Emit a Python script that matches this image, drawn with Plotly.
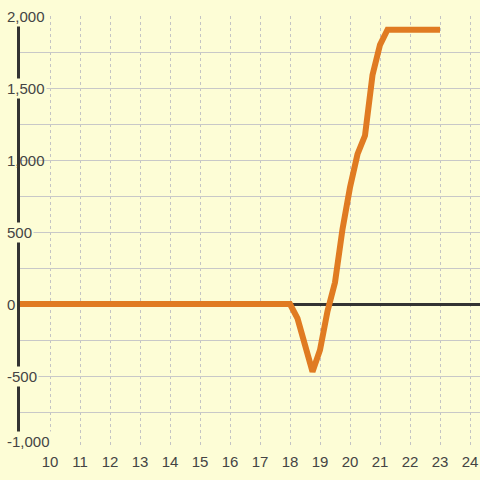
import plotly.graph_objects as go

hours = [9, 18.0, 18.25, 18.5, 18.75, 19.0, 19.25, 19.5, 19.75, 20.0, 20.25, 20.5, 20.75, 21.0, 21.25, 23.0]
values = [0, 0, -100, -290, -470, -320, -50, 150, 520, 810, 1040, 1170, 1590, 1800, 1905, 1905]
x_ticks = list(range(10, 25))
y_label_vals = [2000, 1500, 1000, 500, 0, -500, -1000]
y_label_text = ["2,000", "1,500", "1,000", "500", "0", "-500", "-1,000"]

BG = "#fdfdd6"
TXT = "#444444"
FONT = "Liberation Sans, Arial, sans-serif"

fig = go.Figure()
fig.add_trace(go.Scatter(x=hours, y=values, mode="lines",
                         line=dict(color="#e07b22", width=6), hoverinfo="skip"))

annotations = []
for v, t in zip(y_label_vals, y_label_text):
    annotations.append(dict(
        xref="paper", yref="y", x=-15 / 460, y=v, xanchor="left", yanchor="middle",
        yshift=(7 if v == -1000 else 0),
        text=t, showarrow=False, font=dict(family=FONT, size=15, color=TXT),
        bgcolor=(BG if v != 1000 else "rgba(0,0,0,0)"), borderpad=1))

fig.update_layout(
    width=480, height=480,
    margin=dict(l=20, r=0, t=16, b=32),
    paper_bgcolor=BG, plot_bgcolor=BG,
    showlegend=False,
    annotations=annotations,
    xaxis=dict(range=[9, 9 + 460 / 30], tickvals=x_ticks, ticktext=[str(t) for t in x_ticks],
               showgrid=True, gridcolor="#c4c4c4", griddash="dot", gridwidth=1,
               zeroline=False, showline=False, ticks="", ticklabelstandoff=3,
               tickfont=dict(family=FONT, size=15, color=TXT)),
    yaxis=dict(range=[-1000, 2000], tickvals=[-1000, -750, -500, -250, 0, 250, 500, 750, 1000, 1250, 1500, 1750, 2000],
               showticklabels=False, showgrid=True, gridcolor="#c8c8c8", gridwidth=1,
               zeroline=True, zerolinecolor="#333333", zerolinewidth=3,
               showline=True, linecolor="#333333", linewidth=3, ticks=""),
)

fig.write_html("out.html", config={"displayModeBar": False, "staticPlot": True},
               post_script="document.body.style.margin='0';document.body.style.background='%s';" % BG)
